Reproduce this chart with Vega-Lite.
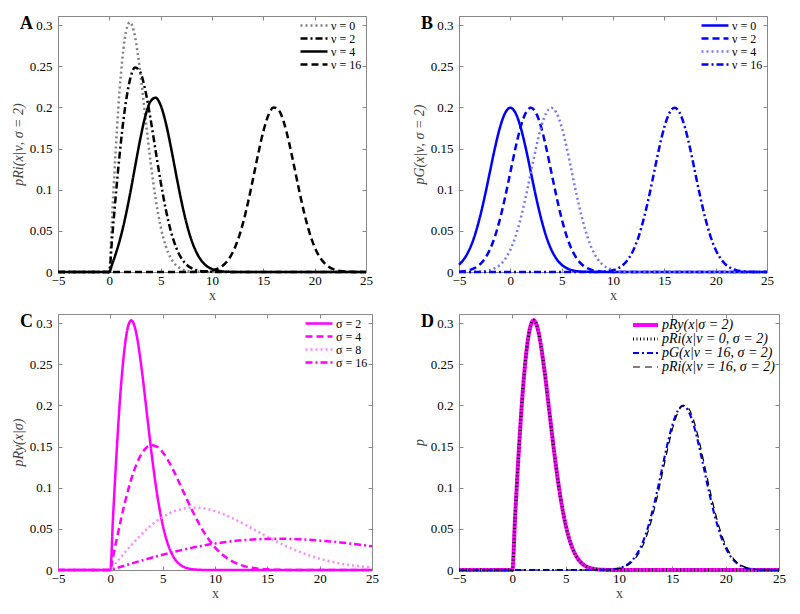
{
"$schema": "https://vega.github.io/schema/vega-lite/v6.json",
"background": "white",
"padding": {"left": 10, "top": 14, "right": 5, "bottom": 5},
"config": {
  "font": "Liberation Serif",
  "view": {"stroke": "#888", "strokeWidth": 1},
  "axis": {"labelFont": "Liberation Serif", "labelFontSize": 13, "labelColor": "#000", "titleFont": "Liberation Serif", "titleFontSize": 14, "titleFontWeight": "normal", "titleColor": "#444", "domain": false, "grid": false, "tickColor": "#888", "tickSize": -4, "labelPadding": 6, "labelFlush": false, "labelOverlap": false},
  "axisY": {"titleFontStyle": "italic", "titlePadding": 4, "labelPadding": 10},
  "axisX": {"titlePadding": 1},
  "legend": {"orient": "top-right", "offset": 4, "padding": 0, "labelFont": "Liberation Serif", "labelFontSize": 12, "labelColor": "#000", "symbolType": "stroke", "symbolSize": 729, "symbolStrokeWidth": 2.5, "labelOffset": 2, "labelLimit": 300, "clipHeight": 11, "rowPadding": 0}
},
"datasets": {
"A": [
{"s":"ν = 0","x":-5,"y":0},{"s":"ν = 0","x":0,"y":0},{"s":"ν = 0","x":0.25,"y":0.062},{"s":"ν = 0","x":0.5,"y":0.1212},{"s":"ν = 0","x":1,"y":0.2206},{"s":"ν = 0","x":1.5,"y":0.2831},{"s":"ν = 0","x":1.75,"y":0.2984},{"s":"ν = 0","x":2,"y":0.3033},{"s":"ν = 0","x":2.25,"y":0.2987},{"s":"ν = 0","x":2.5,"y":0.2861},{"s":"ν = 0","x":3,"y":0.2435},{"s":"ν = 0","x":3.5,"y":0.1892},{"s":"ν = 0","x":4,"y":0.1353},{"s":"ν = 0","x":4.5,"y":0.0895},{"s":"ν = 0","x":5,"y":0.0549},{"s":"ν = 0","x":5.5,"y":0.0313},{"s":"ν = 0","x":6,"y":0.0167},{"s":"ν = 0","x":6.5,"y":0.0083},{"s":"ν = 0","x":7,"y":0.0038},{"s":"ν = 0","x":7.5,"y":0.0017},{"s":"ν = 0","x":8,"y":0.0007},{"s":"ν = 0","x":9,"y":0.0001},{"s":"ν = 0","x":10,"y":0},{"s":"ν = 0","x":25,"y":0},
{"s":"ν = 2","x":-5,"y":0},{"s":"ν = 2","x":0,"y":0},{"s":"ν = 2","x":0.25,"y":0.0378},{"s":"ν = 2","x":0.5,"y":0.0746},{"s":"ν = 2","x":1,"y":0.1423},{"s":"ν = 2","x":1.5,"y":0.1967},{"s":"ν = 2","x":2,"y":0.2329},{"s":"ν = 2","x":2.5,"y":0.2483},{"s":"ν = 2","x":3,"y":0.2432},{"s":"ν = 2","x":3.5,"y":0.221},{"s":"ν = 2","x":4,"y":0.1871},{"s":"ν = 2","x":4.5,"y":0.148},{"s":"ν = 2","x":5,"y":0.1096},{"s":"ν = 2","x":5.5,"y":0.0759},{"s":"ν = 2","x":6,"y":0.0493},{"s":"ν = 2","x":6.5,"y":0.03},{"s":"ν = 2","x":7,"y":0.0171},{"s":"ν = 2","x":7.5,"y":0.0092},{"s":"ν = 2","x":8,"y":0.0046},{"s":"ν = 2","x":8.5,"y":0.0022},{"s":"ν = 2","x":9,"y":0.001},{"s":"ν = 2","x":10,"y":0.0002},{"s":"ν = 2","x":11,"y":0},{"s":"ν = 2","x":25,"y":0},
{"s":"ν = 4","x":-5,"y":0},{"s":"ν = 4","x":0,"y":0},{"s":"ν = 4","x":0.25,"y":0.0085},{"s":"ν = 4","x":0.5,"y":0.0174},{"s":"ν = 4","x":1,"y":0.0378},{"s":"ν = 4","x":1.5,"y":0.0631},{"s":"ν = 4","x":2,"y":0.0936},{"s":"ν = 4","x":2.5,"y":0.1274},{"s":"ν = 4","x":3,"y":0.1608},{"s":"ν = 4","x":3.5,"y":0.189},{"s":"ν = 4","x":4,"y":0.207},{"s":"ν = 4","x":4.5,"y":0.2117},{"s":"ν = 4","x":5,"y":0.2025},{"s":"ν = 4","x":5.5,"y":0.1811},{"s":"ν = 4","x":6,"y":0.1516},{"s":"ν = 4","x":6.5,"y":0.1188},{"s":"ν = 4","x":7,"y":0.0873},{"s":"ν = 4","x":7.5,"y":0.0601},{"s":"ν = 4","x":8,"y":0.0388},{"s":"ν = 4","x":8.5,"y":0.0235},{"s":"ν = 4","x":9,"y":0.0133},{"s":"ν = 4","x":9.5,"y":0.0071},{"s":"ν = 4","x":10,"y":0.0036},{"s":"ν = 4","x":10.5,"y":0.0017},{"s":"ν = 4","x":11,"y":0.0007},{"s":"ν = 4","x":12,"y":0.0001},{"s":"ν = 4","x":13,"y":0},{"s":"ν = 4","x":25,"y":0},
{"s":"ν = 16","x":-5,"y":0},{"s":"ν = 16","x":7,"y":0},{"s":"ν = 16","x":8,"y":0.00005},{"s":"ν = 16","x":9,"y":0.0003},{"s":"ν = 16","x":9.5,"y":0.0008},{"s":"ν = 16","x":10,"y":0.0018},{"s":"ν = 16","x":10.5,"y":0.0037},{"s":"ν = 16","x":11,"y":0.0073},{"s":"ν = 16","x":11.5,"y":0.0135},{"s":"ν = 16","x":12,"y":0.0234},{"s":"ν = 16","x":12.5,"y":0.0382},{"s":"ν = 16","x":13,"y":0.0585},{"s":"ν = 16","x":13.5,"y":0.0841},{"s":"ν = 16","x":14,"y":0.1134},{"s":"ν = 16","x":14.5,"y":0.1436},{"s":"ν = 16","x":15,"y":0.1708},{"s":"ν = 16","x":15.5,"y":0.1907},{"s":"ν = 16","x":16,"y":0.1999},{"s":"ν = 16","x":16.5,"y":0.1967},{"s":"ν = 16","x":17,"y":0.1818},{"s":"ν = 16","x":17.5,"y":0.1577},{"s":"ν = 16","x":18,"y":0.1285},{"s":"ν = 16","x":18.5,"y":0.0984},{"s":"ν = 16","x":19,"y":0.0707},{"s":"ν = 16","x":19.5,"y":0.0477},{"s":"ν = 16","x":20,"y":0.0302},{"s":"ν = 16","x":20.5,"y":0.018},{"s":"ν = 16","x":21,"y":0.0101},{"s":"ν = 16","x":21.5,"y":0.0053},{"s":"ν = 16","x":22,"y":0.0026},{"s":"ν = 16","x":22.5,"y":0.0012},{"s":"ν = 16","x":23,"y":0.0005},{"s":"ν = 16","x":23.5,"y":0.0002},{"s":"ν = 16","x":24,"y":0.0001},{"s":"ν = 16","x":25,"y":0}
],
"B": [
{"s":"ν = 0","x":-5,"y":0.0088},{"s":"ν = 0","x":-4.5,"y":0.0159},{"s":"ν = 0","x":-4,"y":0.027},{"s":"ν = 0","x":-3.5,"y":0.0431},{"s":"ν = 0","x":-3,"y":0.0648},{"s":"ν = 0","x":-2.5,"y":0.0913},{"s":"ν = 0","x":-2,"y":0.121},{"s":"ν = 0","x":-1.5,"y":0.1506},{"s":"ν = 0","x":-1,"y":0.176},{"s":"ν = 0","x":-0.5,"y":0.1933},{"s":"ν = 0","x":0,"y":0.1995},{"s":"ν = 0","x":0.5,"y":0.1933},{"s":"ν = 0","x":1,"y":0.176},{"s":"ν = 0","x":1.5,"y":0.1506},{"s":"ν = 0","x":2,"y":0.121},{"s":"ν = 0","x":2.5,"y":0.0913},{"s":"ν = 0","x":3,"y":0.0648},{"s":"ν = 0","x":3.5,"y":0.0431},{"s":"ν = 0","x":4,"y":0.027},{"s":"ν = 0","x":4.5,"y":0.0159},{"s":"ν = 0","x":5,"y":0.0088},{"s":"ν = 0","x":5.5,"y":0.0046},{"s":"ν = 0","x":6,"y":0.0022},{"s":"ν = 0","x":6.5,"y":0.001},{"s":"ν = 0","x":7,"y":0.0004},{"s":"ν = 0","x":8,"y":0.0001},{"s":"ν = 0","x":9,"y":0},{"s":"ν = 0","x":25,"y":0},
{"s":"ν = 2","x":-5,"y":0.0004},{"s":"ν = 2","x":-4.5,"y":0.001},{"s":"ν = 2","x":-4,"y":0.0022},{"s":"ν = 2","x":-3.5,"y":0.0046},{"s":"ν = 2","x":-3,"y":0.0088},{"s":"ν = 2","x":-2.5,"y":0.0159},{"s":"ν = 2","x":-2,"y":0.027},{"s":"ν = 2","x":-1.5,"y":0.0431},{"s":"ν = 2","x":-1,"y":0.0648},{"s":"ν = 2","x":-0.5,"y":0.0913},{"s":"ν = 2","x":0,"y":0.121},{"s":"ν = 2","x":0.5,"y":0.1506},{"s":"ν = 2","x":1,"y":0.176},{"s":"ν = 2","x":1.5,"y":0.1933},{"s":"ν = 2","x":2,"y":0.1995},{"s":"ν = 2","x":2.5,"y":0.1933},{"s":"ν = 2","x":3,"y":0.176},{"s":"ν = 2","x":3.5,"y":0.1506},{"s":"ν = 2","x":4,"y":0.121},{"s":"ν = 2","x":4.5,"y":0.0913},{"s":"ν = 2","x":5,"y":0.0648},{"s":"ν = 2","x":5.5,"y":0.0431},{"s":"ν = 2","x":6,"y":0.027},{"s":"ν = 2","x":6.5,"y":0.0159},{"s":"ν = 2","x":7,"y":0.0088},{"s":"ν = 2","x":7.5,"y":0.0046},{"s":"ν = 2","x":8,"y":0.0022},{"s":"ν = 2","x":8.5,"y":0.001},{"s":"ν = 2","x":9,"y":0.0004},{"s":"ν = 2","x":10,"y":0.0001},{"s":"ν = 2","x":11,"y":0},{"s":"ν = 2","x":25,"y":0},
{"s":"ν = 4","x":-5,"y":0},{"s":"ν = 4","x":-4,"y":0.0001},{"s":"ν = 4","x":-3,"y":0.0004},{"s":"ν = 4","x":-2.5,"y":0.001},{"s":"ν = 4","x":-2,"y":0.0022},{"s":"ν = 4","x":-1.5,"y":0.0046},{"s":"ν = 4","x":-1,"y":0.0088},{"s":"ν = 4","x":-0.5,"y":0.0159},{"s":"ν = 4","x":0,"y":0.027},{"s":"ν = 4","x":0.5,"y":0.0431},{"s":"ν = 4","x":1,"y":0.0648},{"s":"ν = 4","x":1.5,"y":0.0913},{"s":"ν = 4","x":2,"y":0.121},{"s":"ν = 4","x":2.5,"y":0.1506},{"s":"ν = 4","x":3,"y":0.176},{"s":"ν = 4","x":3.5,"y":0.1933},{"s":"ν = 4","x":4,"y":0.1995},{"s":"ν = 4","x":4.5,"y":0.1933},{"s":"ν = 4","x":5,"y":0.176},{"s":"ν = 4","x":5.5,"y":0.1506},{"s":"ν = 4","x":6,"y":0.121},{"s":"ν = 4","x":6.5,"y":0.0913},{"s":"ν = 4","x":7,"y":0.0648},{"s":"ν = 4","x":7.5,"y":0.0431},{"s":"ν = 4","x":8,"y":0.027},{"s":"ν = 4","x":8.5,"y":0.0159},{"s":"ν = 4","x":9,"y":0.0088},{"s":"ν = 4","x":9.5,"y":0.0046},{"s":"ν = 4","x":10,"y":0.0022},{"s":"ν = 4","x":10.5,"y":0.001},{"s":"ν = 4","x":11,"y":0.0004},{"s":"ν = 4","x":12,"y":0.0001},{"s":"ν = 4","x":13,"y":0},{"s":"ν = 4","x":25,"y":0},
{"s":"ν = 16","x":-5,"y":0},{"s":"ν = 16","x":7,"y":0},{"s":"ν = 16","x":8,"y":0.0001},{"s":"ν = 16","x":9,"y":0.0004},{"s":"ν = 16","x":9.5,"y":0.001},{"s":"ν = 16","x":10,"y":0.0022},{"s":"ν = 16","x":10.5,"y":0.0046},{"s":"ν = 16","x":11,"y":0.0088},{"s":"ν = 16","x":11.5,"y":0.0159},{"s":"ν = 16","x":12,"y":0.027},{"s":"ν = 16","x":12.5,"y":0.0431},{"s":"ν = 16","x":13,"y":0.0648},{"s":"ν = 16","x":13.5,"y":0.0913},{"s":"ν = 16","x":14,"y":0.121},{"s":"ν = 16","x":14.5,"y":0.1506},{"s":"ν = 16","x":15,"y":0.176},{"s":"ν = 16","x":15.5,"y":0.1933},{"s":"ν = 16","x":16,"y":0.1995},{"s":"ν = 16","x":16.5,"y":0.1933},{"s":"ν = 16","x":17,"y":0.176},{"s":"ν = 16","x":17.5,"y":0.1506},{"s":"ν = 16","x":18,"y":0.121},{"s":"ν = 16","x":18.5,"y":0.0913},{"s":"ν = 16","x":19,"y":0.0648},{"s":"ν = 16","x":19.5,"y":0.0431},{"s":"ν = 16","x":20,"y":0.027},{"s":"ν = 16","x":20.5,"y":0.0159},{"s":"ν = 16","x":21,"y":0.0088},{"s":"ν = 16","x":21.5,"y":0.0046},{"s":"ν = 16","x":22,"y":0.0022},{"s":"ν = 16","x":22.5,"y":0.001},{"s":"ν = 16","x":23,"y":0.0004},{"s":"ν = 16","x":24,"y":0.0001},{"s":"ν = 16","x":25,"y":0}
],
"C": [
{"s":"σ = 2","x":-5,"y":0},{"s":"σ = 2","x":0,"y":0},{"s":"σ = 2","x":0.25,"y":0.062},{"s":"σ = 2","x":0.5,"y":0.1212},{"s":"σ = 2","x":1,"y":0.2206},{"s":"σ = 2","x":1.5,"y":0.2831},{"s":"σ = 2","x":1.75,"y":0.2984},{"s":"σ = 2","x":2,"y":0.3033},{"s":"σ = 2","x":2.25,"y":0.2987},{"s":"σ = 2","x":2.5,"y":0.2861},{"s":"σ = 2","x":3,"y":0.2435},{"s":"σ = 2","x":3.5,"y":0.1892},{"s":"σ = 2","x":4,"y":0.1353},{"s":"σ = 2","x":4.5,"y":0.0895},{"s":"σ = 2","x":5,"y":0.0549},{"s":"σ = 2","x":5.5,"y":0.0313},{"s":"σ = 2","x":6,"y":0.0167},{"s":"σ = 2","x":6.5,"y":0.0083},{"s":"σ = 2","x":7,"y":0.0038},{"s":"σ = 2","x":7.5,"y":0.0017},{"s":"σ = 2","x":8,"y":0.0007},{"s":"σ = 2","x":9,"y":0.0001},{"s":"σ = 2","x":10,"y":0},{"s":"σ = 2","x":25,"y":0},
{"s":"σ = 4","x":-5,"y":0},{"s":"σ = 4","x":0,"y":0},{"s":"σ = 4","x":0.25,"y":0.0156},{"s":"σ = 4","x":0.5,"y":0.031},{"s":"σ = 4","x":1,"y":0.0606},{"s":"σ = 4","x":1.5,"y":0.0874},{"s":"σ = 4","x":2,"y":0.1103},{"s":"σ = 4","x":2.5,"y":0.1285},{"s":"σ = 4","x":3,"y":0.1415},{"s":"σ = 4","x":3.5,"y":0.1492},{"s":"σ = 4","x":4,"y":0.1516},{"s":"σ = 4","x":4.5,"y":0.1494},{"s":"σ = 4","x":5,"y":0.1431},{"s":"σ = 4","x":5.5,"y":0.1336},{"s":"σ = 4","x":6,"y":0.1217},{"s":"σ = 4","x":6.5,"y":0.1085},{"s":"σ = 4","x":7,"y":0.0946},{"s":"σ = 4","x":7.5,"y":0.0808},{"s":"σ = 4","x":8,"y":0.0677},{"s":"σ = 4","x":9,"y":0.0448},{"s":"σ = 4","x":10,"y":0.0275},{"s":"σ = 4","x":11,"y":0.0157},{"s":"σ = 4","x":12,"y":0.0083},{"s":"σ = 4","x":13,"y":0.0041},{"s":"σ = 4","x":14,"y":0.0019},{"s":"σ = 4","x":15,"y":0.0008},{"s":"σ = 4","x":16,"y":0.0003},{"s":"σ = 4","x":17,"y":0.0001},{"s":"σ = 4","x":18,"y":0},{"s":"σ = 4","x":25,"y":0},
{"s":"σ = 8","x":-5,"y":0},{"s":"σ = 8","x":0,"y":0},{"s":"σ = 8","x":0.5,"y":0.0078},{"s":"σ = 8","x":1,"y":0.0155},{"s":"σ = 8","x":2,"y":0.0303},{"s":"σ = 8","x":3,"y":0.0437},{"s":"σ = 8","x":4,"y":0.0552},{"s":"σ = 8","x":5,"y":0.0643},{"s":"σ = 8","x":6,"y":0.0708},{"s":"σ = 8","x":7,"y":0.0746},{"s":"σ = 8","x":8,"y":0.0758},{"s":"σ = 8","x":9,"y":0.0747},{"s":"σ = 8","x":10,"y":0.0715},{"s":"σ = 8","x":11,"y":0.0668},{"s":"σ = 8","x":12,"y":0.0609},{"s":"σ = 8","x":13,"y":0.0542},{"s":"σ = 8","x":14,"y":0.0473},{"s":"σ = 8","x":15,"y":0.0404},{"s":"σ = 8","x":16,"y":0.0338},{"s":"σ = 8","x":17,"y":0.0278},{"s":"σ = 8","x":18,"y":0.0224},{"s":"σ = 8","x":19,"y":0.0177},{"s":"σ = 8","x":20,"y":0.0137},{"s":"σ = 8","x":21,"y":0.0105},{"s":"σ = 8","x":22,"y":0.0078},{"s":"σ = 8","x":23,"y":0.0058},{"s":"σ = 8","x":24,"y":0.0042},{"s":"σ = 8","x":25,"y":0.003},
{"s":"σ = 16","x":-5,"y":0},{"s":"σ = 16","x":0,"y":0},{"s":"σ = 16","x":0.5,"y":0.002},{"s":"σ = 16","x":1,"y":0.0039},{"s":"σ = 16","x":2,"y":0.0078},{"s":"σ = 16","x":3,"y":0.0115},{"s":"σ = 16","x":4,"y":0.0151},{"s":"σ = 16","x":5,"y":0.0186},{"s":"σ = 16","x":6,"y":0.0218},{"s":"σ = 16","x":7,"y":0.0248},{"s":"σ = 16","x":8,"y":0.0276},{"s":"σ = 16","x":9,"y":0.03},{"s":"σ = 16","x":10,"y":0.0321},{"s":"σ = 16","x":11,"y":0.0339},{"s":"σ = 16","x":12,"y":0.0354},{"s":"σ = 16","x":13,"y":0.0365},{"s":"σ = 16","x":14,"y":0.0373},{"s":"σ = 16","x":15,"y":0.0378},{"s":"σ = 16","x":16,"y":0.0379},{"s":"σ = 16","x":17,"y":0.0378},{"s":"σ = 16","x":18,"y":0.0373},{"s":"σ = 16","x":19,"y":0.0367},{"s":"σ = 16","x":20,"y":0.0358},{"s":"σ = 16","x":21,"y":0.0347},{"s":"σ = 16","x":22,"y":0.0334},{"s":"σ = 16","x":23,"y":0.032},{"s":"σ = 16","x":24,"y":0.0304},{"s":"σ = 16","x":25,"y":0.0288}
],
"D": [
{"s":"pRy(x|σ = 2)","x":-5,"y":0},{"s":"pRy(x|σ = 2)","x":0,"y":0},{"s":"pRy(x|σ = 2)","x":0.25,"y":0.062},{"s":"pRy(x|σ = 2)","x":0.5,"y":0.1212},{"s":"pRy(x|σ = 2)","x":1,"y":0.2206},{"s":"pRy(x|σ = 2)","x":1.5,"y":0.2831},{"s":"pRy(x|σ = 2)","x":1.75,"y":0.2984},{"s":"pRy(x|σ = 2)","x":2,"y":0.3033},{"s":"pRy(x|σ = 2)","x":2.25,"y":0.2987},{"s":"pRy(x|σ = 2)","x":2.5,"y":0.2861},{"s":"pRy(x|σ = 2)","x":3,"y":0.2435},{"s":"pRy(x|σ = 2)","x":3.5,"y":0.1892},{"s":"pRy(x|σ = 2)","x":4,"y":0.1353},{"s":"pRy(x|σ = 2)","x":4.5,"y":0.0895},{"s":"pRy(x|σ = 2)","x":5,"y":0.0549},{"s":"pRy(x|σ = 2)","x":5.5,"y":0.0313},{"s":"pRy(x|σ = 2)","x":6,"y":0.0167},{"s":"pRy(x|σ = 2)","x":6.5,"y":0.0083},{"s":"pRy(x|σ = 2)","x":7,"y":0.0038},{"s":"pRy(x|σ = 2)","x":7.5,"y":0.0017},{"s":"pRy(x|σ = 2)","x":8,"y":0.0007},{"s":"pRy(x|σ = 2)","x":9,"y":0.0001},{"s":"pRy(x|σ = 2)","x":10,"y":0},{"s":"pRy(x|σ = 2)","x":25,"y":0},
{"s":"pRi(x|ν = 0, σ = 2)","x":-5,"y":0},{"s":"pRi(x|ν = 0, σ = 2)","x":0,"y":0},{"s":"pRi(x|ν = 0, σ = 2)","x":0.25,"y":0.062},{"s":"pRi(x|ν = 0, σ = 2)","x":0.5,"y":0.1212},{"s":"pRi(x|ν = 0, σ = 2)","x":1,"y":0.2206},{"s":"pRi(x|ν = 0, σ = 2)","x":1.5,"y":0.2831},{"s":"pRi(x|ν = 0, σ = 2)","x":1.75,"y":0.2984},{"s":"pRi(x|ν = 0, σ = 2)","x":2,"y":0.3033},{"s":"pRi(x|ν = 0, σ = 2)","x":2.25,"y":0.2987},{"s":"pRi(x|ν = 0, σ = 2)","x":2.5,"y":0.2861},{"s":"pRi(x|ν = 0, σ = 2)","x":3,"y":0.2435},{"s":"pRi(x|ν = 0, σ = 2)","x":3.5,"y":0.1892},{"s":"pRi(x|ν = 0, σ = 2)","x":4,"y":0.1353},{"s":"pRi(x|ν = 0, σ = 2)","x":4.5,"y":0.0895},{"s":"pRi(x|ν = 0, σ = 2)","x":5,"y":0.0549},{"s":"pRi(x|ν = 0, σ = 2)","x":5.5,"y":0.0313},{"s":"pRi(x|ν = 0, σ = 2)","x":6,"y":0.0167},{"s":"pRi(x|ν = 0, σ = 2)","x":6.5,"y":0.0083},{"s":"pRi(x|ν = 0, σ = 2)","x":7,"y":0.0038},{"s":"pRi(x|ν = 0, σ = 2)","x":7.5,"y":0.0017},{"s":"pRi(x|ν = 0, σ = 2)","x":8,"y":0.0007},{"s":"pRi(x|ν = 0, σ = 2)","x":9,"y":0.0001},{"s":"pRi(x|ν = 0, σ = 2)","x":10,"y":0},{"s":"pRi(x|ν = 0, σ = 2)","x":25,"y":0},
{"s":"pG(x|ν = 16, σ = 2)","x":-5,"y":0},{"s":"pG(x|ν = 16, σ = 2)","x":7,"y":0},{"s":"pG(x|ν = 16, σ = 2)","x":8,"y":0.0001},{"s":"pG(x|ν = 16, σ = 2)","x":9,"y":0.0004},{"s":"pG(x|ν = 16, σ = 2)","x":9.5,"y":0.001},{"s":"pG(x|ν = 16, σ = 2)","x":10,"y":0.0022},{"s":"pG(x|ν = 16, σ = 2)","x":10.5,"y":0.0046},{"s":"pG(x|ν = 16, σ = 2)","x":11,"y":0.0088},{"s":"pG(x|ν = 16, σ = 2)","x":11.5,"y":0.0159},{"s":"pG(x|ν = 16, σ = 2)","x":12,"y":0.027},{"s":"pG(x|ν = 16, σ = 2)","x":12.5,"y":0.0431},{"s":"pG(x|ν = 16, σ = 2)","x":13,"y":0.0648},{"s":"pG(x|ν = 16, σ = 2)","x":13.5,"y":0.0913},{"s":"pG(x|ν = 16, σ = 2)","x":14,"y":0.121},{"s":"pG(x|ν = 16, σ = 2)","x":14.5,"y":0.1506},{"s":"pG(x|ν = 16, σ = 2)","x":15,"y":0.176},{"s":"pG(x|ν = 16, σ = 2)","x":15.5,"y":0.1933},{"s":"pG(x|ν = 16, σ = 2)","x":16,"y":0.1995},{"s":"pG(x|ν = 16, σ = 2)","x":16.5,"y":0.1933},{"s":"pG(x|ν = 16, σ = 2)","x":17,"y":0.176},{"s":"pG(x|ν = 16, σ = 2)","x":17.5,"y":0.1506},{"s":"pG(x|ν = 16, σ = 2)","x":18,"y":0.121},{"s":"pG(x|ν = 16, σ = 2)","x":18.5,"y":0.0913},{"s":"pG(x|ν = 16, σ = 2)","x":19,"y":0.0648},{"s":"pG(x|ν = 16, σ = 2)","x":19.5,"y":0.0431},{"s":"pG(x|ν = 16, σ = 2)","x":20,"y":0.027},{"s":"pG(x|ν = 16, σ = 2)","x":20.5,"y":0.0159},{"s":"pG(x|ν = 16, σ = 2)","x":21,"y":0.0088},{"s":"pG(x|ν = 16, σ = 2)","x":21.5,"y":0.0046},{"s":"pG(x|ν = 16, σ = 2)","x":22,"y":0.0022},{"s":"pG(x|ν = 16, σ = 2)","x":22.5,"y":0.001},{"s":"pG(x|ν = 16, σ = 2)","x":23,"y":0.0004},{"s":"pG(x|ν = 16, σ = 2)","x":24,"y":0.0001},{"s":"pG(x|ν = 16, σ = 2)","x":25,"y":0},
{"s":"pRi(x|ν = 16, σ = 2)","x":-5,"y":0},{"s":"pRi(x|ν = 16, σ = 2)","x":7,"y":0},{"s":"pRi(x|ν = 16, σ = 2)","x":8,"y":0.00005},{"s":"pRi(x|ν = 16, σ = 2)","x":9,"y":0.0003},{"s":"pRi(x|ν = 16, σ = 2)","x":9.5,"y":0.0008},{"s":"pRi(x|ν = 16, σ = 2)","x":10,"y":0.0018},{"s":"pRi(x|ν = 16, σ = 2)","x":10.5,"y":0.0037},{"s":"pRi(x|ν = 16, σ = 2)","x":11,"y":0.0073},{"s":"pRi(x|ν = 16, σ = 2)","x":11.5,"y":0.0135},{"s":"pRi(x|ν = 16, σ = 2)","x":12,"y":0.0234},{"s":"pRi(x|ν = 16, σ = 2)","x":12.5,"y":0.0382},{"s":"pRi(x|ν = 16, σ = 2)","x":13,"y":0.0585},{"s":"pRi(x|ν = 16, σ = 2)","x":13.5,"y":0.0841},{"s":"pRi(x|ν = 16, σ = 2)","x":14,"y":0.1134},{"s":"pRi(x|ν = 16, σ = 2)","x":14.5,"y":0.1436},{"s":"pRi(x|ν = 16, σ = 2)","x":15,"y":0.1708},{"s":"pRi(x|ν = 16, σ = 2)","x":15.5,"y":0.1907},{"s":"pRi(x|ν = 16, σ = 2)","x":16,"y":0.1999},{"s":"pRi(x|ν = 16, σ = 2)","x":16.5,"y":0.1967},{"s":"pRi(x|ν = 16, σ = 2)","x":17,"y":0.1818},{"s":"pRi(x|ν = 16, σ = 2)","x":17.5,"y":0.1577},{"s":"pRi(x|ν = 16, σ = 2)","x":18,"y":0.1285},{"s":"pRi(x|ν = 16, σ = 2)","x":18.5,"y":0.0984},{"s":"pRi(x|ν = 16, σ = 2)","x":19,"y":0.0707},{"s":"pRi(x|ν = 16, σ = 2)","x":19.5,"y":0.0477},{"s":"pRi(x|ν = 16, σ = 2)","x":20,"y":0.0302},{"s":"pRi(x|ν = 16, σ = 2)","x":20.5,"y":0.018},{"s":"pRi(x|ν = 16, σ = 2)","x":21,"y":0.0101},{"s":"pRi(x|ν = 16, σ = 2)","x":21.5,"y":0.0053},{"s":"pRi(x|ν = 16, σ = 2)","x":22,"y":0.0026},{"s":"pRi(x|ν = 16, σ = 2)","x":22.5,"y":0.0012},{"s":"pRi(x|ν = 16, σ = 2)","x":23,"y":0.0005},{"s":"pRi(x|ν = 16, σ = 2)","x":23.5,"y":0.0002},{"s":"pRi(x|ν = 16, σ = 2)","x":24,"y":0.0001},{"s":"pRi(x|ν = 16, σ = 2)","x":25,"y":0}
]
},
"columns": 2,
"spacing": {"row": 8, "column": 32},
"concat": [
{
 "width": 308, "height": 256,
 "layer": [
  {
   "data": {"name": "A"},
   "mark": {"type": "line", "interpolate": "monotone", "strokeWidth": 2.5},
   "encoding": {
    "x": {"field": "x", "type": "quantitative", "scale": {"domain": [-5, 25], "nice": false}, "axis": {"values": [-5, 0, 5, 10, 15, 20, 25], "title": "x"}},
    "y": {"field": "y", "type": "quantitative", "scale": {"domain": [0, 0.311], "nice": false}, "axis": {"values": [0, 0.05, 0.1, 0.15, 0.2, 0.25, 0.3], "format": "~g", "title": "pRi(x|ν, σ = 2)"}},
    "color": {"field": "s", "type": "nominal", "scale": {"domain": ["ν = 0", "ν = 2", "ν = 4", "ν = 16"], "range": ["#808080", "#000000", "#000000", "#000000"]}, "legend": {"title": null}},
    "strokeDash": {"field": "s", "type": "nominal", "scale": {"domain": ["ν = 0", "ν = 2", "ν = 4", "ν = 16"], "range": [[2, 3], [7, 3, 2, 3], [1, 0], [7, 4]]}, "legend": {"title": null}}
   }
  },
  {
   "data": {"values": [{"label": "A"}]},
   "mark": {"type": "text", "align": "left", "baseline": "alphabetic", "dx": -38, "dy": 4, "font": "Liberation Serif", "fontSize": 18, "fontWeight": "bold", "color": "#000"},
   "encoding": {
    "x": {"datum": -5, "type": "quantitative", "axis": {"orient": "top", "values": [-5, 0, 5, 10, 15, 20, 25], "labels": false, "title": null}},
    "y": {"datum": 0.3, "type": "quantitative", "axis": {"orient": "right", "values": [0, 0.05, 0.1, 0.15, 0.2, 0.25, 0.3], "labels": false, "title": null}},
    "text": {"field": "label"}
   }
  }
 ],
 "resolve": {"axis": {"x": "independent", "y": "independent"}}
},
{
 "width": 308, "height": 256,
 "layer": [
  {
   "data": {"name": "B"},
   "mark": {"type": "line", "interpolate": "monotone", "strokeWidth": 2.5},
   "encoding": {
    "x": {"field": "x", "type": "quantitative", "scale": {"domain": [-5, 25], "nice": false}, "axis": {"values": [-5, 0, 5, 10, 15, 20, 25], "title": "x"}},
    "y": {"field": "y", "type": "quantitative", "scale": {"domain": [0, 0.311], "nice": false}, "axis": {"values": [0, 0.05, 0.1, 0.15, 0.2, 0.25, 0.3], "format": "~g", "title": "pG(x|ν, σ = 2)"}},
    "color": {"field": "s", "type": "nominal", "scale": {"domain": ["ν = 0", "ν = 2", "ν = 4", "ν = 16"], "range": ["#0000ff", "#0000ff", "#7878ff", "#0000ff"]}, "legend": {"title": null}},
    "strokeDash": {"field": "s", "type": "nominal", "scale": {"domain": ["ν = 0", "ν = 2", "ν = 4", "ν = 16"], "range": [[1, 0], [7, 4], [2, 3], [7, 3, 2, 3]]}, "legend": {"title": null}}
   }
  },
  {
   "data": {"values": [{"label": "B"}]},
   "mark": {"type": "text", "align": "left", "baseline": "alphabetic", "dx": -38, "dy": 4, "font": "Liberation Serif", "fontSize": 18, "fontWeight": "bold", "color": "#000"},
   "encoding": {
    "x": {"datum": -5, "type": "quantitative", "axis": {"orient": "top", "values": [-5, 0, 5, 10, 15, 20, 25], "labels": false, "title": null}},
    "y": {"datum": 0.3, "type": "quantitative", "axis": {"orient": "right", "values": [0, 0.05, 0.1, 0.15, 0.2, 0.25, 0.3], "labels": false, "title": null}},
    "text": {"field": "label"}
   }
  }
 ],
 "resolve": {"axis": {"x": "independent", "y": "independent"}}
},
{
 "width": 314, "height": 256,
 "layer": [
  {
   "data": {"name": "C"},
   "mark": {"type": "line", "interpolate": "monotone", "strokeWidth": 2.5},
   "encoding": {
    "x": {"field": "x", "type": "quantitative", "scale": {"domain": [-5, 25], "nice": false}, "axis": {"values": [-5, 0, 5, 10, 15, 20, 25], "title": "x"}},
    "y": {"field": "y", "type": "quantitative", "scale": {"domain": [0, 0.311], "nice": false}, "axis": {"values": [0, 0.05, 0.1, 0.15, 0.2, 0.25, 0.3], "format": "~g", "title": "pRy(x|σ)"}},
    "color": {"field": "s", "type": "nominal", "scale": {"domain": ["σ = 2", "σ = 4", "σ = 8", "σ = 16"], "range": ["#ff00ff", "#ff00ff", "#ff88ff", "#ff00ff"]}, "legend": {"title": null}},
    "strokeDash": {"field": "s", "type": "nominal", "scale": {"domain": ["σ = 2", "σ = 4", "σ = 8", "σ = 16"], "range": [[1, 0], [7, 4], [2, 3], [7, 3, 2, 3]]}, "legend": {"title": null}}
   }
  },
  {
   "data": {"values": [{"label": "C"}]},
   "mark": {"type": "text", "align": "left", "baseline": "alphabetic", "dx": -38, "dy": 4, "font": "Liberation Serif", "fontSize": 18, "fontWeight": "bold", "color": "#000"},
   "encoding": {
    "x": {"datum": -5, "type": "quantitative", "axis": {"orient": "top", "values": [-5, 0, 5, 10, 15, 20, 25], "labels": false, "title": null}},
    "y": {"datum": 0.3, "type": "quantitative", "axis": {"orient": "right", "values": [0, 0.05, 0.1, 0.15, 0.2, 0.25, 0.3], "labels": false, "title": null}},
    "text": {"field": "label"}
   }
  }
 ],
 "resolve": {"axis": {"x": "independent", "y": "independent"}}
},
{
 "width": 320, "height": 256,
 "layer": [
  {
   "data": {"name": "D"},
   "mark": {"type": "line", "interpolate": "monotone"},
   "encoding": {
    "x": {"field": "x", "type": "quantitative", "scale": {"domain": [-5, 25], "nice": false}, "axis": {"values": [-5, 0, 5, 10, 15, 20, 25], "title": "x"}},
    "y": {"field": "y", "type": "quantitative", "scale": {"domain": [0, 0.311], "nice": false}, "axis": {"values": [0, 0.05, 0.1, 0.15, 0.2, 0.25, 0.3], "format": "~g", "title": "p"}},
    "color": {"field": "s", "type": "nominal", "scale": {"domain": ["pRy(x|σ = 2)", "pRi(x|ν = 0, σ = 2)", "pG(x|ν = 16, σ = 2)", "pRi(x|ν = 16, σ = 2)"], "range": ["#ff00ff", "#000000", "#0000ff", "#000000"]}, "legend": {"title": null, "labelFontSize": 14, "labelFontStyle": "italic", "symbolSize": 625, "clipHeight": 14, "offset": 4}},
    "strokeDash": {"field": "s", "type": "nominal", "scale": {"domain": ["pRy(x|σ = 2)", "pRi(x|ν = 0, σ = 2)", "pG(x|ν = 16, σ = 2)", "pRi(x|ν = 16, σ = 2)"], "range": [[1, 0], [1, 2.5], [6, 3, 2, 3], [7, 5]]}, "legend": {"title": null, "labelFontSize": 14, "labelFontStyle": "italic", "symbolSize": 625, "clipHeight": 14, "offset": 4}},
    "strokeWidth": {"field": "s", "type": "nominal", "scale": {"domain": ["pRy(x|σ = 2)", "pRi(x|ν = 0, σ = 2)", "pG(x|ν = 16, σ = 2)", "pRi(x|ν = 16, σ = 2)"], "range": [4, 1.2, 2.5, 2.5]}, "legend": {"title": null, "labelFontSize": 14, "labelFontStyle": "italic", "symbolSize": 625, "clipHeight": 14, "offset": 4}}
   }
  },
  {
   "data": {"values": [{"label": "D"}]},
   "mark": {"type": "text", "align": "left", "baseline": "alphabetic", "dx": -38, "dy": 4, "font": "Liberation Serif", "fontSize": 18, "fontWeight": "bold", "color": "#000"},
   "encoding": {
    "x": {"datum": -5, "type": "quantitative", "axis": {"orient": "top", "values": [-5, 0, 5, 10, 15, 20, 25], "labels": false, "title": null}},
    "y": {"datum": 0.3, "type": "quantitative", "axis": {"orient": "right", "values": [0, 0.05, 0.1, 0.15, 0.2, 0.25, 0.3], "labels": false, "title": null}},
    "text": {"field": "label"}
   }
  }
 ],
 "resolve": {"axis": {"x": "independent", "y": "independent"}}
}
],
"resolve": {"scale": {"color": "independent", "strokeDash": "independent", "strokeWidth": "independent", "x": "independent", "y": "independent"}, "legend": {"color": "independent", "strokeDash": "independent", "strokeWidth": "independent"}}
}
